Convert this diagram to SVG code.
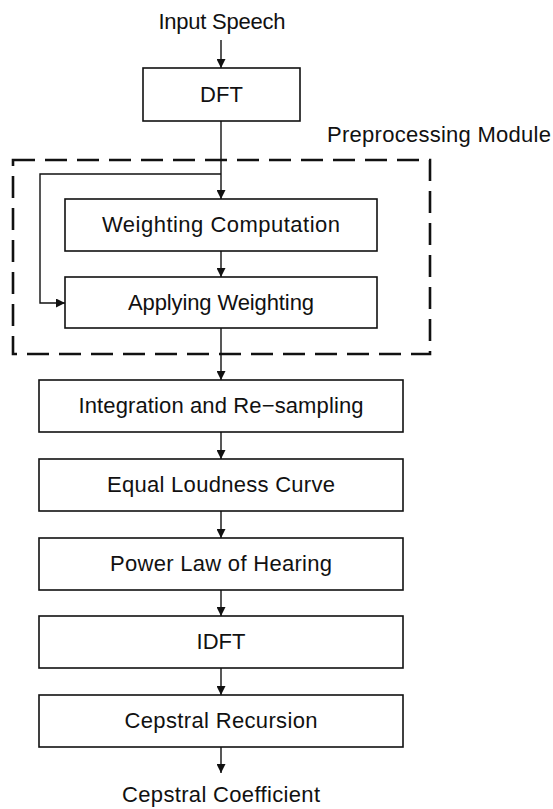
<svg xmlns="http://www.w3.org/2000/svg" width="553" height="809" viewBox="0 0 553 809">
<style>
text{font-family:"Liberation Sans",Arial,sans-serif;font-size:22px;fill:#111;text-anchor:middle}
.box{fill:#fff;stroke:#111;stroke-width:1.6}
.con{fill:none;stroke:#111;stroke-width:1.4}
.dash{fill:none;stroke:#111;stroke-width:2.6;stroke-dasharray:22 10}
</style>
<defs>
<marker id="ah" viewBox="0 0 10 10" refX="10" refY="5" markerWidth="10" markerHeight="9" markerUnits="userSpaceOnUse" orient="auto">
<path d="M0,0 L10,5 L0,10 z" fill="#111"/>
</marker>
</defs>
<rect width="553" height="809" fill="#fff"/>
<g id="module">
<rect class="dash" x="13" y="160" width="417" height="194"/>
<text x="439" y="142" textLength="224" lengthAdjust="spacing">Preprocessing Module</text>
</g>
<g id="connectors">
<line class="con" x1="221" y1="40" x2="221" y2="68" marker-end="url(#ah)"/>
<line class="con" x1="221" y1="121" x2="221" y2="199" marker-end="url(#ah)"/>
<polyline class="con" points="221,174 40,174 40,303 65,303" marker-end="url(#ah)"/>
<line class="con" x1="221" y1="251" x2="221" y2="277" marker-end="url(#ah)"/>
<line class="con" x1="221" y1="328" x2="221" y2="380" marker-end="url(#ah)"/>
<line class="con" x1="221" y1="432" x2="221" y2="459" marker-end="url(#ah)"/>
<line class="con" x1="221" y1="511" x2="221" y2="538" marker-end="url(#ah)"/>
<line class="con" x1="221" y1="590" x2="221" y2="616" marker-end="url(#ah)"/>
<line class="con" x1="221" y1="668" x2="221" y2="695" marker-end="url(#ah)"/>
<line class="con" x1="221" y1="747" x2="221" y2="773" marker-end="url(#ah)"/>
</g>
<g id="input"><text x="222" y="29" textLength="127" lengthAdjust="spacing">Input Speech</text></g>
<g id="dft"><rect class="box" x="143" y="68" width="157" height="53"/><text x="221.5" y="102">DFT</text></g>
<g id="weighting-computation"><rect class="box" x="65" y="199" width="312" height="52"/><text x="221" y="232" textLength="238" lengthAdjust="spacing">Weighting Computation</text></g>
<g id="applying-weighting"><rect class="box" x="65" y="277" width="312" height="51"/><text x="221" y="310" textLength="186" lengthAdjust="spacing">Applying Weighting</text></g>
<g id="integration"><rect class="box" x="39" y="380" width="364" height="52"/><text x="221" y="413" textLength="285" lengthAdjust="spacing">Integration and Re−sampling</text></g>
<g id="equal-loudness"><rect class="box" x="39" y="459" width="364" height="52"/><text x="221" y="492" textLength="228" lengthAdjust="spacing">Equal Loudness Curve</text></g>
<g id="power-law"><rect class="box" x="39" y="538" width="364" height="52"/><text x="221" y="571" textLength="222" lengthAdjust="spacing">Power Law of Hearing</text></g>
<g id="idft"><rect class="box" x="39" y="616" width="364" height="52"/><text x="221" y="649">IDFT</text></g>
<g id="cepstral-recursion"><rect class="box" x="39" y="695" width="364" height="52"/><text x="221" y="728" textLength="193" lengthAdjust="spacing">Cepstral Recursion</text></g>
<g id="output"><text x="221" y="802" textLength="198" lengthAdjust="spacing">Cepstral Coefficient</text></g>
</svg>
